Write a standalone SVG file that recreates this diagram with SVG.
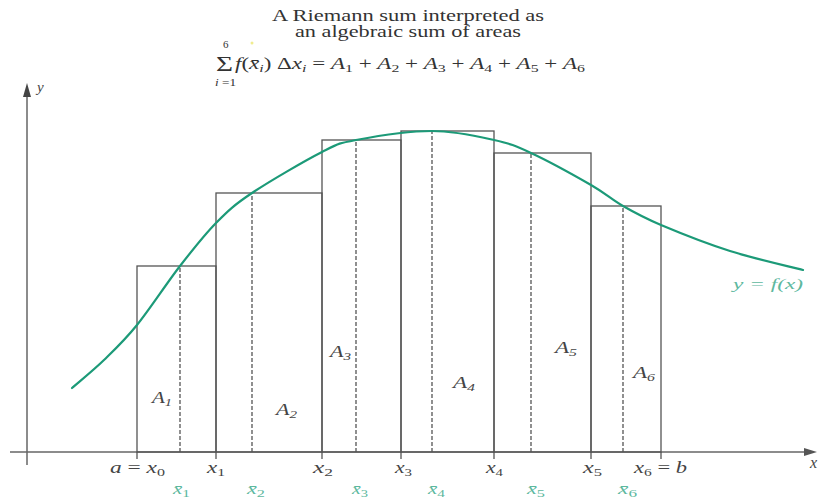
<svg xmlns="http://www.w3.org/2000/svg" width="819" height="501" viewBox="0 0 819 501">
<style>
.t{font-family:"Liberation Serif","Times New Roman","DejaVu Serif",serif;fill:#333;font-size:16px}
.i{font-style:italic}
.s{font-size:11px}
.lbl{font-family:"Liberation Serif","Times New Roman","DejaVu Serif",serif;fill:#444;font-size:16px;font-style:italic}
.bar{font-family:"Liberation Serif","Times New Roman","DejaVu Serif",serif;fill:#5db89e;font-size:15px;font-style:italic}
.box{fill:none;stroke:#555;stroke-width:1.3}
.tick{stroke:#555;stroke-width:1.3}
.dash{stroke:#555;stroke-width:1.3;stroke-dasharray:4 2}
.axis{stroke:#666;stroke-width:1.5}
</style>
<rect width="819" height="501" fill="#fff"/>

<g id="title">
<text class="t" x="272" y="21" textLength="272" lengthAdjust="spacingAndGlyphs">A Riemann sum interpreted as</text>
<text class="t" x="295" y="37" textLength="226" lengthAdjust="spacingAndGlyphs">an algebraic sum of areas</text>
<text class="t" x="216" y="71" style="font-size:22px" textLength="17" lengthAdjust="spacingAndGlyphs">Σ</text>
<text class="t s" x="223" y="48">6</text>
<text class="t s" x="215" y="86" textLength="21" lengthAdjust="spacingAndGlyphs"><tspan class="i">i</tspan> =1</text>
<text class="t" x="235" y="69" textLength="350" lengthAdjust="spacingAndGlyphs"><tspan class="i">f</tspan>(<tspan class="i">x̄</tspan><tspan class="s i" dy="3">i</tspan><tspan dy="-3">) Δ</tspan><tspan class="i">x</tspan><tspan class="s i" dy="3">i</tspan><tspan dy="-3"> = </tspan><tspan class="i">A</tspan><tspan class="s" dy="3">1</tspan><tspan dy="-3"> + </tspan><tspan class="i">A</tspan><tspan class="s" dy="3">2</tspan><tspan dy="-3"> + </tspan><tspan class="i">A</tspan><tspan class="s" dy="3">3</tspan><tspan dy="-3"> + </tspan><tspan class="i">A</tspan><tspan class="s" dy="3">4</tspan><tspan dy="-3"> + </tspan><tspan class="i">A</tspan><tspan class="s" dy="3">5</tspan><tspan dy="-3"> + </tspan><tspan class="i">A</tspan><tspan class="s" dy="3">6</tspan></text>
<circle cx="252" cy="43" r="1.5" fill="#f0ec90"/>
</g>

<g id="axes">
<line class="axis" x1="10" y1="452" x2="806" y2="452"/>
<polygon points="817,452 804,448 804,456" fill="#555"/>
<line class="axis" x1="27" y1="465" x2="27" y2="94"/>
<polygon points="27,83 23,97 31,97" fill="#444"/>
<text class="lbl" x="37" y="92" style="font-size:15px">y</text>
<text class="lbl" x="810" y="468">x</text>
</g>

<g id="rectangles">
<rect id="r1" class="box" x="137" y="266" width="79" height="186"/>
<rect id="r2" class="box" x="216" y="193" width="106" height="259"/>
<rect id="r3" class="box" x="322" y="140" width="79" height="312"/>
<rect id="r4" class="box" x="401" y="131" width="93" height="321"/>
<rect id="r5" class="box" x="494" y="153" width="97" height="299"/>
<rect id="r6" class="box" x="591" y="206" width="70" height="246"/>
<g id="ticks">
<line class="tick" x1="137" y1="452" x2="137" y2="459"/>
<line class="tick" x1="216" y1="452" x2="216" y2="459"/>
<line class="tick" x1="322" y1="452" x2="322" y2="459"/>
<line class="tick" x1="401" y1="452" x2="401" y2="459"/>
<line class="tick" x1="494" y1="452" x2="494" y2="459"/>
<line class="tick" x1="591" y1="452" x2="591" y2="459"/>
<line class="tick" x1="661" y1="452" x2="661" y2="459"/>
</g>
<g id="sample-lines">
<line class="dash" x1="180" y1="452" x2="180" y2="266"/>
<line class="dash" x1="252" y1="452" x2="252" y2="193"/>
<line class="dash" x1="356" y1="452" x2="356" y2="140"/>
<line class="dash" x1="432" y1="452" x2="432" y2="131"/>
<line class="dash" x1="531" y1="452" x2="531" y2="153"/>
<line class="dash" x1="623" y1="452" x2="623" y2="206"/>
</g>
</g>

<g id="curve">
<path fill="none" stroke="#1c9a78" stroke-width="2.2" stroke-linecap="round" d="M72,388 C77.3,383.3 93.2,370.5 104,360 C114.8,349.5 124.3,340.7 137,325 C149.7,309.3 166.8,283 180,266 C193.2,249 204,235.2 216,223 C228,210.8 234.3,204.8 252,193 C269.7,181.2 304.7,160.8 322,152 C339.3,143.2 337.7,143.5 356,140 C374.3,136.5 409,131 432,131 C455,131 477.5,136.3 494,140 C510.5,143.7 514.8,145.5 531,153 C547.2,160.5 575.7,176.2 591,185 C606.3,193.8 611.3,199.3 623,206 C634.7,212.7 643.2,217.5 661,225 C678.8,232.5 706.3,243.5 730,251 C753.7,258.5 790.8,266.8 803,270"/>
<text class="bar" x="733" y="289" textLength="70" lengthAdjust="spacingAndGlyphs" fill="#4aa58c">y = f(x)</text>
</g>

<g id="area-labels">
<text class="lbl" x="152" y="403" textLength="20" lengthAdjust="spacingAndGlyphs">A<tspan class="s" dy="3">1</tspan></text>
<text class="lbl" x="276" y="415" textLength="21" lengthAdjust="spacingAndGlyphs">A<tspan class="s" dy="3">2</tspan></text>
<text class="lbl" x="330" y="357" textLength="21" lengthAdjust="spacingAndGlyphs">A<tspan class="s" dy="3">3</tspan></text>
<text class="lbl" x="453" y="388" textLength="22" lengthAdjust="spacingAndGlyphs">A<tspan class="s" dy="3">4</tspan></text>
<text class="lbl" x="555" y="353" textLength="22" lengthAdjust="spacingAndGlyphs">A<tspan class="s" dy="3">5</tspan></text>
<text class="lbl" x="633" y="378" textLength="22" lengthAdjust="spacingAndGlyphs">A<tspan class="s" dy="3">6</tspan></text>
</g>

<g id="x-labels">
<text class="lbl" x="110" y="473" textLength="55" lengthAdjust="spacingAndGlyphs">a <tspan font-style="normal">=</tspan> x<tspan class="s" font-style="normal" dy="3">0</tspan></text>
<text class="lbl" x="207" y="473" textLength="18" lengthAdjust="spacingAndGlyphs">x<tspan class="s" font-style="normal" dy="3">1</tspan></text>
<text class="lbl" x="313" y="473" textLength="20" lengthAdjust="spacingAndGlyphs">x<tspan class="s" font-style="normal" dy="3">2</tspan></text>
<text class="lbl" x="395" y="473" textLength="17" lengthAdjust="spacingAndGlyphs">x<tspan class="s" font-style="normal" dy="3">3</tspan></text>
<text class="lbl" x="486" y="473" textLength="17" lengthAdjust="spacingAndGlyphs">x<tspan class="s" font-style="normal" dy="3">4</tspan></text>
<text class="lbl" x="583" y="473" textLength="19" lengthAdjust="spacingAndGlyphs">x<tspan class="s" font-style="normal" dy="3">5</tspan></text>
<text class="lbl" x="634" y="473" textLength="53" lengthAdjust="spacingAndGlyphs">x<tspan class="s" font-style="normal" dy="3">6</tspan><tspan font-style="normal" dy="-3"> = </tspan>b</text>
</g>

<g id="sample-labels">
<text class="bar" x="173" y="494" textLength="17" lengthAdjust="spacingAndGlyphs">x̄<tspan class="s" font-style="normal" dy="3">1</tspan></text>
<text class="bar" x="247" y="494" textLength="18" lengthAdjust="spacingAndGlyphs">x̄<tspan class="s" font-style="normal" dy="3">2</tspan></text>
<text class="bar" x="352" y="494" textLength="16" lengthAdjust="spacingAndGlyphs">x̄<tspan class="s" font-style="normal" dy="3">3</tspan></text>
<text class="bar" x="428" y="494" textLength="17" lengthAdjust="spacingAndGlyphs">x̄<tspan class="s" font-style="normal" dy="3">4</tspan></text>
<text class="bar" x="527" y="494" textLength="18" lengthAdjust="spacingAndGlyphs">x̄<tspan class="s" font-style="normal" dy="3">5</tspan></text>
<text class="bar" x="618" y="494" textLength="19" lengthAdjust="spacingAndGlyphs">x̄<tspan class="s" font-style="normal" dy="3">6</tspan></text>
</g>
</svg>
